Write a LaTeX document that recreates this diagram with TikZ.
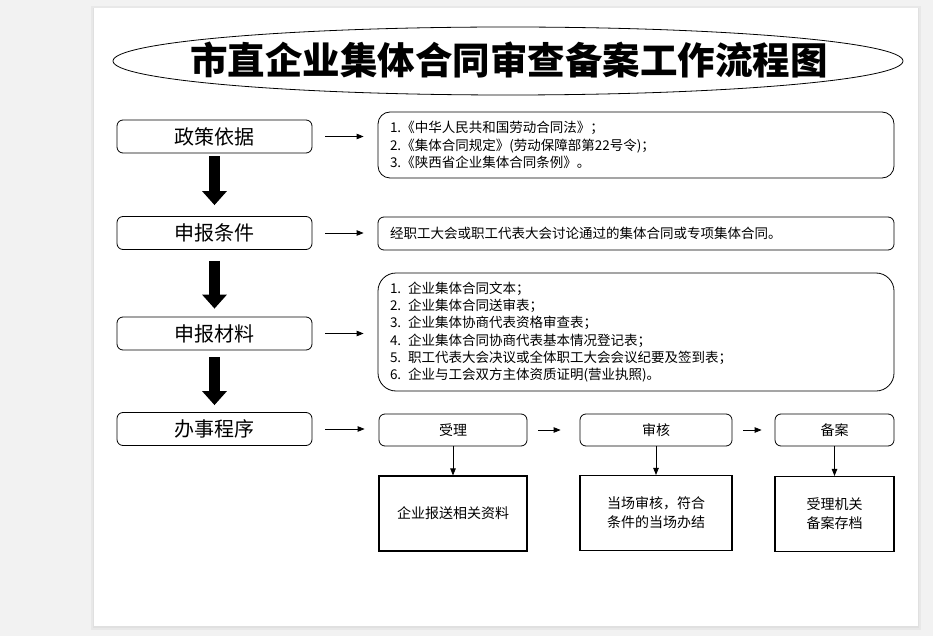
\documentclass[tikz,border=0pt]{standalone}
\usepackage{fontspec}
\newfontfamily\cjk{Noto Sans CJK SC}
\usetikzlibrary{arrows.meta}
\usetikzlibrary{calc,shapes.geometric}

\tikzset{
    stage/.style={draw, line width=0.8pt, rounded corners=6pt, minimum width=195pt, minimum height=33pt, font=\cjk\fontsize{20}{24}\selectfont},
    note/.style={draw, line width=0.8pt, align=left, inner xsep=12pt, text width=492pt, font=\cjk\fontsize{13.5}{17.2}\selectfont},
    step box/.style={draw, line width=0.8pt, rounded corners=6pt, minimum height=32pt, font=\cjk\fontsize{14}{17}\selectfont},
    result/.style={draw, line width=1.1pt, minimum height=75pt, align=center, font=\cjk\fontsize{14}{19}\selectfont},
    fat/.style={line width=11pt, -{Triangle[length=14pt,width=24pt]}},
    lead/.style={line width=0.8pt, -{Triangle[length=7pt,width=5.5pt]}},
}

\begin{document}
\begin{tikzpicture}[x=1pt, y=-1pt]
    \fill[black!5] (0, 0) rectangle (933, 636);
    \fill[black!9] (91, 6) rectangle (921, 630);
    \fill[black!12] (93, 8) rectangle (919, 628);
    \fill[white] (94, 8) rectangle (918, 626);
    \useasboundingbox (0, 0) rectangle (933, 636);

    \node[draw, ellipse, line width=0.8pt, minimum width=790pt, minimum height=68pt] (title) at (508, 61) {};
    \node[font=\cjk\bfseries\fontsize{37.5}{40}\selectfont] (titletext) at (509, 60) {市直企业集体合同审查备案工作流程图};

    \node[stage] (zcyj) at (214.5, 136.5) {政策依据};
    \node[stage] (sbtj) at (214.5, 233) {申报条件};
    \node[stage] (sbcl) at (214.5, 333.5) {申报材料};
    \node[stage] (bscx) at (214.5, 429) {办事程序};

    \node[note, rounded corners=12pt, minimum height=66pt] (yj) at (636, 145) {1.《中华人民共和国劳动合同法》；\\2.《集体合同规定》(劳动保障部第22号令)；\\3.《陕西省企业集体合同条例》。};
    \node[note, rounded corners=6pt, minimum height=33pt] (tj) at (636, 233.5) {经职工大会或职工代表大会讨论通过的集体合同或专项集体合同。};
    \node[note, rounded corners=18pt, minimum height=118pt] (cl) at (636, 332) {1. 企业集体合同文本；\\2. 企业集体合同送审表；\\3. 企业集体协商代表资格审查表；\\4. 企业集体合同协商代表基本情况登记表；\\5. 职工代表大会决议或全体职工大会会议纪要及签到表；\\6. 企业与工会双方主体资质证明(营业执照)。};

    \node[step box, minimum width=148pt] (sl) at (453, 430) {受理};
    \node[step box, minimum width=152pt] (sh) at (656, 430) {审核};
    \node[step box, minimum width=119pt] (ba) at (834.5, 430) {备案};

    \node[result, minimum width=148pt] (slr) at (453, 513.5) {企业报送相关资料};
    \node[result, minimum width=152pt] (shr) at (656, 513) {当场审核，符合\\条件的当场办结};
    \node[result, minimum width=119pt] (bar) at (834.5, 514) {受理机关\\备案存档};

    \draw[fat, shorten <=3pt, shorten >=11pt] (zcyj) -- (sbtj);
    \draw[fat, shorten <=11pt, shorten >=8pt] (sbtj) -- (sbcl);
    \draw[fat, shorten <=7pt, shorten >=7pt] (sbcl) -- (bscx);

    \draw[lead, shorten <=13pt, shorten >=14pt] (zcyj.east) -- (zcyj.east -| yj.west);
    \draw[lead, shorten <=13pt, shorten >=14pt] (sbtj.east) -- (sbtj.east -| tj.west);
    \draw[lead, shorten <=13pt, shorten >=14pt] (sbcl.east) -- (sbcl.east -| cl.west);
    \draw[lead, shorten <=13pt, shorten >=14pt] (bscx.east) -- (bscx.east -| sl.west);

    \draw[lead, shorten <=11pt, shorten >=19pt] (sl) -- (sh);
    \draw[lead, shorten <=11pt, shorten >=13pt] (sh) -- (ba);

    \draw[lead] (sl) -- (slr);
    \draw[lead] (sh) -- (shr);
    \draw[lead] (ba) -- (bar);
\end{tikzpicture}
\end{document}
